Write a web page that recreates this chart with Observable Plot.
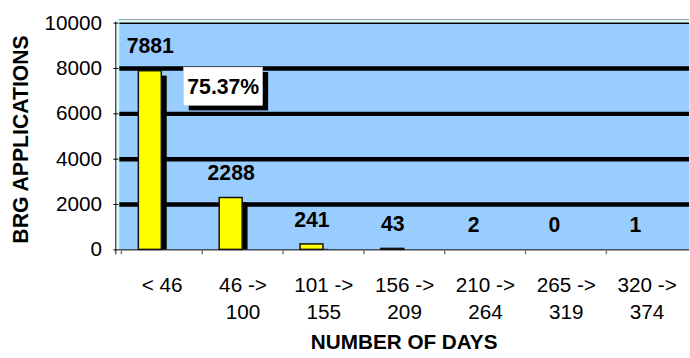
<!DOCTYPE html>
<html>
<head>
<meta charset="utf-8">
<script src="https://cdn.jsdelivr.net/npm/d3@7"></script>
<script src="https://cdn.jsdelivr.net/npm/@observablehq/plot@0.6"></script>
<style>
  html, body { margin: 0; padding: 0; background: #fff; overflow: hidden; }
  #chart svg { display: block; }
</style>
</head>
<body>
<div id="chart"></div>
<script>
// ---- data ----
const categories = ["< 46", "46 -> 100", "101 -> 155", "156 -> 209", "210 -> 264", "265 -> 319", "320 -> 374"];
const applications = [7881, 2288, 241, 43, 2, 0, 1];
const yTicks = [0, 2000, 4000, 6000, 8000, 10000];
const gridValues = [2000, 4000, 6000, 8000];
const yLabel = "BRG APPLICATIONS";
const xLabel = "NUMBER OF DAYS";

const data = categories.map((c, i) => ({cat: c, value: applications[i]}));
const total = d3.sum(applications);
const pctLabel = (applications[0] / total * 100).toFixed(2) + "%";

// ---- layout ----
const W = 700, H = 358;
const mL = 120, mR = 1, mT = 23, mB = 105;
const fw = W - mL - mR;
const bw = fw / categories.length;
const font = "'Liberation Sans', Arial, sans-serif";

// bars with sub-pixel height are not rendered in the original
const visible = data.filter(d => d.value >= 10);

const chart = Plot.plot({
  width: W,
  height: H,
  marginLeft: mL,
  marginRight: mR,
  marginTop: mT,
  marginBottom: mB,
  style: {fontFamily: font, background: "white", overflow: "visible"},
  x: {type: "band", domain: categories, padding: 0},
  y: {domain: [0, 10000]},
  marks: [
    Plot.frame({fill: "#99ccff", stroke: null}),
    // top border
    Plot.ruleY([10000], {stroke: "#888", strokeWidth: 1, dy: -3.5}),
    Plot.ruleY([10000], {stroke: "#ccffff", strokeWidth: 2, dy: -1.8}),
    Plot.ruleY([10000], {stroke: "#000", strokeWidth: 1.5}),
    // gridlines
    Plot.ruleY(gridValues, {stroke: "#000", strokeWidth: 4.5}),
    // left border: cyan edge and black axis line
    Plot.rect([0], {insetLeft: -1, insetRight: fw - 1, insetTop: -3, insetBottom: 0, fill: "#ccffff"}),
    Plot.rect([0], {insetLeft: -3, insetRight: fw + 2, insetTop: -1, insetBottom: -5, fill: "#000"}),
    Plot.ruleY([0], {stroke: "#000", strokeWidth: 1}),
    // bar shadows
    Plot.barY(visible, {x: "cat", y: "value", fill: "#000",
      insetLeft: bw / 2, insetRight: bw / 2 - 5.5, insetTop: 5}),
    // bars
    Plot.barY(visible, {x: "cat", y: "value", fill: "#ffff00", stroke: "#111", strokeWidth: 1.5,
      insetLeft: bw / 2 - 24, insetRight: bw / 2}),
    // value labels
    Plot.text(data, {x: "cat", y: "value", text: d => String(d.value), dx: -12, dy: -25,
      fontSize: 21.5, fontWeight: "bold", fill: "#000", lineAnchor: "middle"}),
    // callout box
    Plot.rect([0], {insetLeft: 71.5, insetRight: fw - 152, insetTop: 50, insetBottom: 141, fill: "#000"}),
    Plot.rect([0], {insetLeft: 66, insetRight: fw - 146.5, insetTop: 45, insetBottom: 146, fill: "#fff", stroke: "#bbb", strokeWidth: 0.5}),
    Plot.text([pctLabel], {frameAnchor: "top-left", text: d => d, dx: 106, dy: 65,
      textAnchor: "middle", lineAnchor: "middle", fontSize: 21.5, fontWeight: "bold", fill: "#000"}),
    // y axis
    Plot.axisY({ticks: yTicks, tickFormat: d3.format("d"), tickSize: 5, tickPadding: 12, fontSize: 21,
      label: null, stroke: "#000", fill: "#000"}),
    // x tick marks at band boundaries
    Plot.ruleX(categories, {x: d => d, y1: 0, y2: 0, insetTop: 5, dx: -bw / 2, stroke: "#777", strokeWidth: 1.5}),
    // x tick labels
    Plot.axisX({tickSize: 0, tickPadding: 23, fontSize: 21, lineHeight: 1.3, label: null, fill: "#000",
      tickFormat: d => d.replace(" -> ", " ->\n")}),
    // axis titles
    Plot.text([yLabel], {frameAnchor: "left", text: d => d, rotate: -90, dx: -99, dy: 3,
      textAnchor: "middle", lineAnchor: "middle", fontSize: 21.5, fontWeight: "bold", fill: "#000"}),
    Plot.text([xLabel], {frameAnchor: "bottom", text: d => d, dy: 94,
      textAnchor: "middle", lineAnchor: "middle", fontSize: 21, fontWeight: "bold", fill: "#000"})
  ]
});

document.getElementById("chart").appendChild(chart);
</script>
</body>
</html>
